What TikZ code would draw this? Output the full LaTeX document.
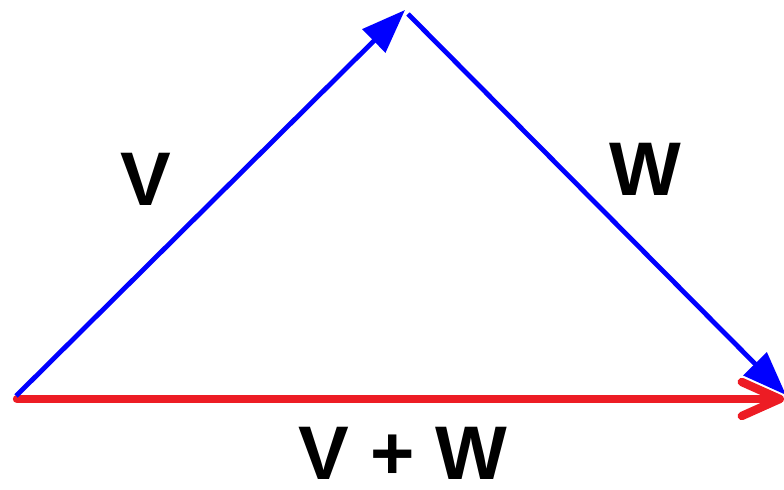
\documentclass[tikz,border=0pt]{standalone}
\usepackage{fontspec}
\setmainfont{Liberation Sans}
\usetikzlibrary{arrows.meta}
\definecolor{vred}{RGB}{237,28,36}
\definecolor{vblue}{RGB}{0,0,255}
\begin{document}
\begin{tikzpicture}[x=0.5pt,y=-0.5pt,
  bluevec/.style={draw=vblue,line width=2.4pt,-{Triangle[length=22pt,width=16pt]}},
  redvec/.style={draw=vred,line width=4.2pt,line cap=round,-{Straight Barb[length=19pt,width=17pt,round]}},
  lbl/.style={font=\fontsize{38}{44}\selectfont\bfseries,text=black,inner sep=0pt}]
\useasboundingbox (0,0) rectangle (784,490);
\coordinate (O) at (16,396);
\coordinate (A) at (405,10);
\coordinate (A2) at (408,14);
\coordinate (B) at (786,395);
\coordinate (R0) at (17,399);
\coordinate (R1) at (784,399);
\draw[redvec] (R0) -- (R1);
\draw[bluevec] (O) -- (A);
\draw[bluevec] (A2) -- (B);
\node[lbl] (lv) at (146,179) {V};
\node[lbl] (lw) at (645,169) {W};
\node[lbl] (lvw) at (403,453) {V + W};
\end{tikzpicture}
\end{document}
